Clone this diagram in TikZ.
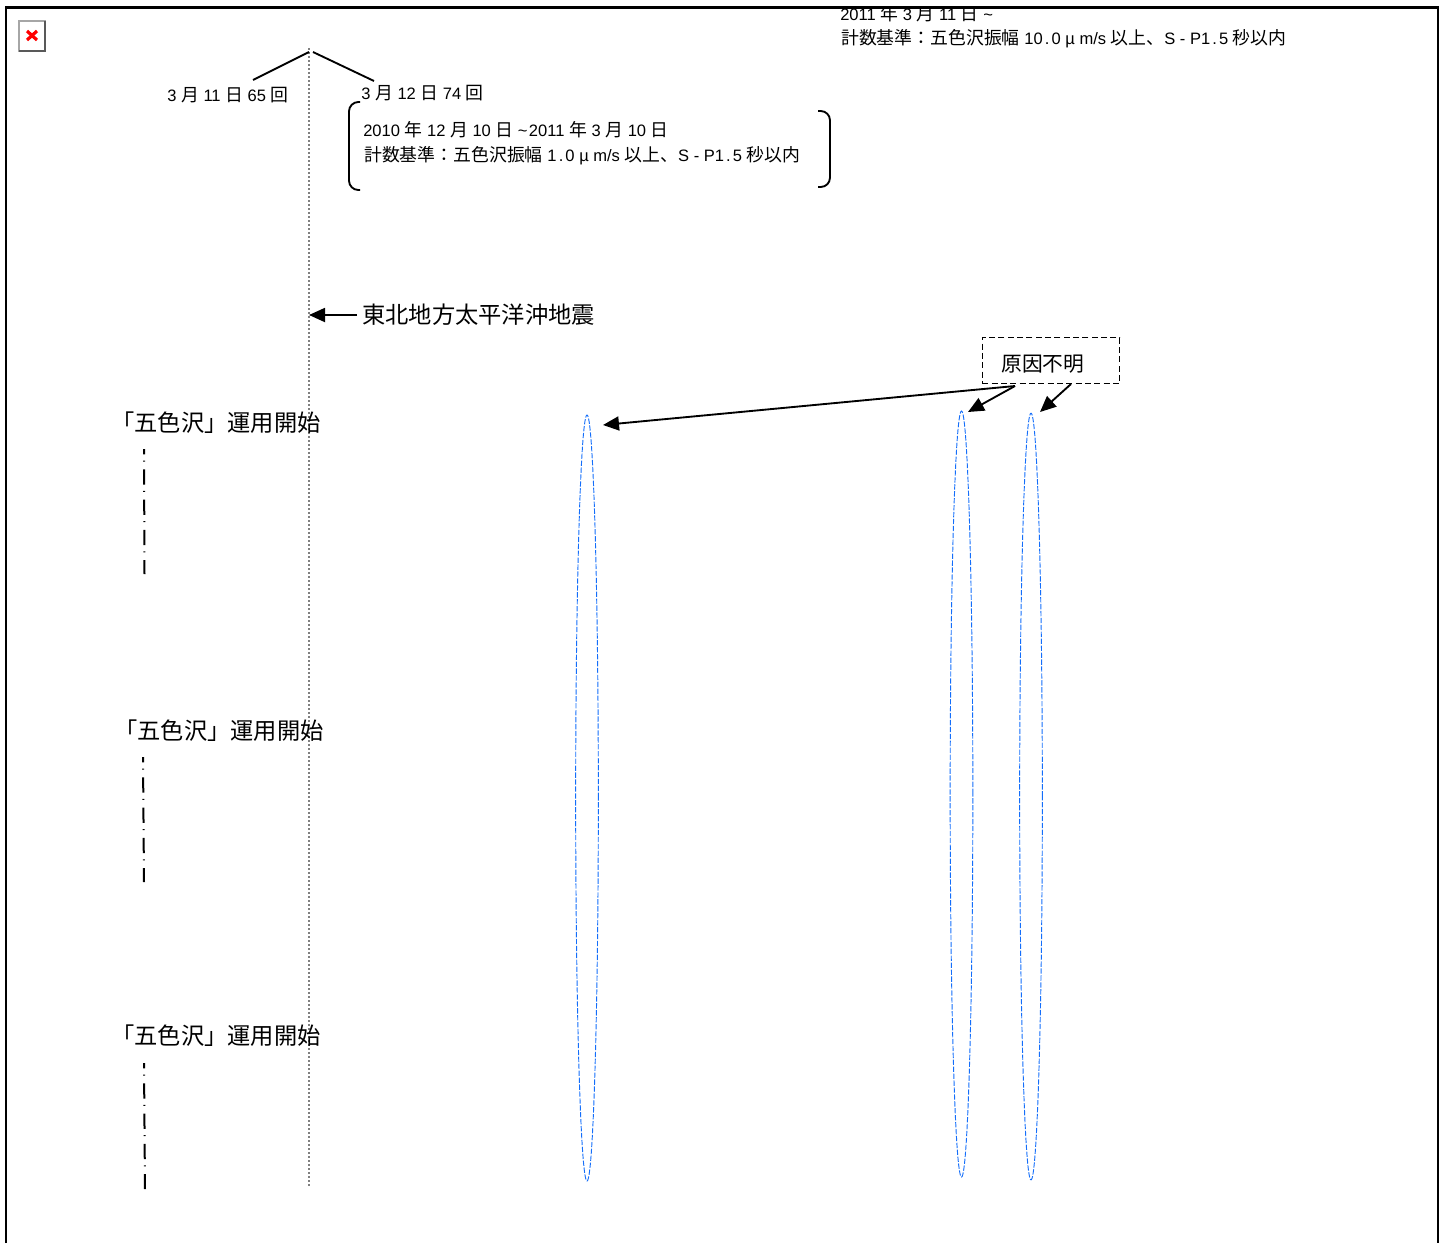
\documentclass[tikz,border=0pt]{standalone}
\usepackage{fontspec}
\usepackage{amsmath}
\usetikzlibrary{shapes.geometric,arrows.meta}
\setmainfont{Liberation Sans}
\newfontfamily\cjk[Scale=1.08]{Noto Sans CJK JP}
\newcommand{\jp}[1]{{\cjk #1}}
\newcommand{\dotgap}{\hspace{1.6pt}.\hspace{1.6pt}}
\tikzset{
	small label/.style={anchor=base west,inner sep=0pt,font=\fontsize{12.4pt}{14pt}\selectfont},
	big label/.style={anchor=base west,inner sep=0pt,font=\fontsize{16.15pt}{18pt}\selectfont},
	span oval/.style={ellipse,draw={rgb,255:red,20;green,110;blue,250},line width=0.7pt,
		dash pattern=on 4pt off 1.2pt,inner sep=0pt,minimum width=17pt},
	black arrow/.style={-{Triangle[length=12pt,width=10.5pt]},line width=1.4pt},
	dash dot line/.style={line width=1.5pt,dash pattern=on 11.5pt off 4.7pt on 0.8pt off 5.7pt,dash phase=7.5pt},
	bracket line/.style={line width=1.4pt,rounded corners=7pt},
}
\begin{document}
\begin{tikzpicture}[x=0.75pt,y=-0.75pt]
	\useasboundingbox (0,0) rectangle (1445,1243);

	% frame, open at the bottom
	\draw[line width=1.7pt] (6,1243) -- (6,7.5) -- (1438,7.5) -- (1438,1243);

	% broken image icon
	\draw[draw=gray!70,fill=white,line width=1.6pt] (19,21) rectangle (45,51);
	\draw[draw=black!65,line width=1.6pt] (19,51) -- (45,51) -- (45,21);
	\draw[red,line width=2.4pt] (27,31) -- (37,40);
	\draw[red,line width=2.4pt] (37,31) -- (27,40);

	% time line
	\coordinate (lineTop) at (309,48);
	\coordinate (lineBottom) at (309,1187);
	\draw[gray,line width=1pt,dash pattern=on 1.6pt off 1.4pt] (lineTop) -- (lineBottom);

	\coordinate (forkLeftA) at (309,52);
	\coordinate (forkLeftB) at (253,80);
	\coordinate (forkRightA) at (313,52);
	\coordinate (forkRightB) at (374,81);
	\draw[line width=1.4pt] (forkLeftA) -- (forkLeftB);
	\draw[line width=1.4pt] (forkRightA) -- (forkRightB);

	\node[small label] (count11) at (167,101) {3 \jp{月} 11 \jp{日} 65 \jp{回}};
	\node[small label] (count12) at (361,99) {3 \jp{月} 12 \jp{日} 74 \jp{回}};

	% bracket round the first period
	\draw[bracket line] (360,102) -- (349,102) -- (349,190) -- (360,190);
	\draw[bracket line] (818,111) -- (830,111) -- (830,187) -- (818,187);
	\node[small label] (periodOne) at (363,136) {2010 \jp{年} 12 \jp{月} 10 \jp{日} \textasciitilde\hspace{1pt}2011 \jp{年} 3 \jp{月} 10 \jp{日}};
	\node[small label] (ruleOne) at (364,161) {\jp{計数基準：五色沢振幅} 1\dotgap 0 µ m/s \jp{以上、}S - P1\dotgap 5 \jp{秒以内}};

	% second period, runs into the frame
	\begin{scope}
		\clip (0,7) rectangle (1445,1243);
		\node[small label] (periodTwo) at (840,20) {2011 \jp{年} 3 \jp{月} 11 \jp{日} \textasciitilde};
	\end{scope}
	\node[small label] (ruleTwo) at (841,44) {\jp{計数基準：五色沢振幅} 10\dotgap 0 µ m/s \jp{以上、}S - P1\dotgap 5 \jp{秒以内}};

	% main shock
	\node[big label] (quake) at (362,323) {\jp{東北地方太平洋沖地震}};
	\coordinate (quakeTip) at (309,315);
	\draw[black arrow] (357,315) -- (quakeTip);

	% start labels with their dash-dot lines
	\node[big label] (startA) at (111,431) {\jp{「五色沢」運用開始}};
	\node[big label] (startB) at (114,739) {\jp{「五色沢」運用開始}};
	\node[big label] (startC) at (111,1044) {\jp{「五色沢」運用開始}};
	\coordinate (dashAtop) at (144,449);
	\coordinate (dashAend) at (144.5,574);
	\coordinate (dashBtop) at (143,757);
	\coordinate (dashBend) at (144,882);
	\coordinate (dashCtop) at (144,1063);
	\coordinate (dashCend) at (145,1189);
	\draw[dash dot line] (dashAtop) -- (dashAend);
	\draw[dash dot line] (dashBtop) -- (dashBend);
	\draw[dash dot line] (dashCtop) -- (dashCend);

	% ovals
	\node[span oval,minimum height=574.5pt] (ovalA) at (587,798) {};
	\node[span oval,minimum height=574.5pt] (ovalB) at (961.5,794) {};
	\node[span oval,minimum height=575pt] (ovalC) at (1031,796.5) {};

	% unknown cause
	\node[draw,line width=1pt,dash pattern=on 4.5pt off 2.5pt,minimum width=103pt,minimum height=34.5pt,inner sep=0pt] (cause) at (1051,360.5) {};
	\node[anchor=base west,inner sep=0pt,font=\fontsize{14.4pt}{16pt}\selectfont] (causeText) at (1001,371) {\jp{原因不明}};
	\coordinate (causeLeft) at (1015,386);
	\coordinate (causeRight) at (1071,384);
	\coordinate (tipA) at (603,425);
	\coordinate (tipB) at (968,412);
	\coordinate (tipC) at (1040,412);
	\draw[black arrow] (causeLeft) -- (tipA);
	\draw[black arrow] (causeLeft) -- (tipB);
	\draw[black arrow] (causeRight) -- (tipC);
\end{tikzpicture}
\end{document}
